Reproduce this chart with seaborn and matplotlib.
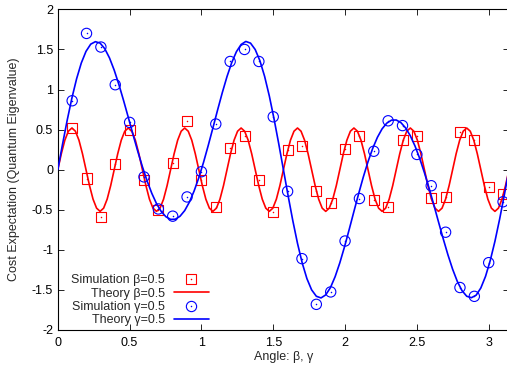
"""
QAOA cost expectation vs. angle: simulation points and theory curves
for beta = 0.5 and gamma = 0.5 (gnuplot-style figure).
"""

import matplotlib
matplotlib.use("Agg")
import matplotlib.pyplot as plt
import seaborn as sns
from matplotlib.lines import Line2D
from matplotlib.ticker import FuncFormatter, MultipleLocator

# -- data -------------------------------------------------------------------
sim_x = [0.1, 0.2, 0.3, 0.4, 0.5, 0.6, 0.7, 0.8, 0.9, 1.0,
         1.1, 1.2, 1.3, 1.4, 1.5, 1.6, 1.7, 1.8, 1.9, 2.0,
         2.1, 2.2, 2.3, 2.4, 2.5, 2.6, 2.7, 2.8, 2.9, 3.0, 3.1]

sim_beta = [0.52, -0.11, -0.59, 0.07, 0.49, -0.125, -0.50, 0.08, 0.61, -0.125,
            -0.47, 0.27, 0.425, -0.13, -0.525, 0.25, 0.30, -0.26, -0.42, 0.26,
            0.42, -0.38, -0.47, 0.37, 0.42, -0.35, -0.34, 0.47, 0.375, -0.21, -0.30]

sim_gamma = [0.86, 1.70, 1.53, 1.06, 0.59, -0.09, -0.49, -0.58, -0.34, -0.025,
             0.57, 1.35, 1.50, 1.35, 0.66, -0.27, -1.11, -1.68, -1.525, -0.89,
             -0.36, 0.23, 0.61, 0.55, 0.19, -0.20, -0.78, -1.47, -1.58, -1.16, -0.40]

theory_beta_x = [0.0, 0.0245, 0.0491, 0.0736, 0.0982, 0.1227, 0.1473, 0.1718,
                 0.1963, 0.2209, 0.2454, 0.2700, 0.2945, 0.3191, 0.3436, 0.3682,
                 0.3927, 0.4172, 0.4418, 0.4663, 0.4909, 0.5154, 0.5400, 0.5645,
                 0.5890, 0.6136, 0.6381, 0.6627, 0.6872, 0.7118, 0.7363, 0.7609,
                 0.7854, 0.8099, 0.8345, 0.8590, 0.8836, 0.9081, 0.9327, 0.9572,
                 0.9817, 1.0063, 1.0308, 1.0554, 1.0799, 1.1045, 1.1290, 1.1536,
                 1.1781, 1.2026, 1.2272, 1.2517, 1.2763, 1.3008, 1.3254, 1.3499,
                 1.3744, 1.3990, 1.4235, 1.4481, 1.4726, 1.4972, 1.5217, 1.5463,
                 1.5708, 1.5953, 1.6199, 1.6444, 1.6690, 1.6935, 1.7181, 1.7426,
                 1.7671, 1.7917, 1.8162, 1.8408, 1.8653, 1.8899, 1.9144, 1.9390,
                 1.9635, 1.9880, 2.0126, 2.0371, 2.0617, 2.0862, 2.1108, 2.1353,
                 2.1598, 2.1844, 2.2089, 2.2335, 2.2580, 2.2826, 2.3071, 2.3317,
                 2.3562, 2.3807, 2.4053, 2.4298, 2.4544, 2.4789, 2.5035, 2.5280,
                 2.5525, 2.5771, 2.6016, 2.6262, 2.6507, 2.6753, 2.6998, 2.7244,
                 2.7489, 2.7734, 2.7980, 2.8225, 2.8471, 2.8716, 2.8962, 2.9207,
                 2.9452, 2.9698, 2.9943, 3.0189, 3.0434, 3.0680, 3.0925, 3.1171,
                 3.1416]
theory_beta = [0.0, 0.199, 0.368, 0.480, 0.52, 0.480, 0.368, 0.199,
               0.0, -0.199, -0.368, -0.480, -0.52, -0.480, -0.368, -0.199,
               0.0, 0.199, 0.368, 0.480, 0.52, 0.480, 0.368, 0.199,
               0.0, -0.199, -0.368, -0.480, -0.52, -0.480, -0.368, -0.199,
               0.0, 0.199, 0.368, 0.480, 0.52, 0.480, 0.368, 0.199,
               0.0, -0.199, -0.368, -0.480, -0.52, -0.480, -0.368, -0.199,
               0.0, 0.199, 0.368, 0.480, 0.52, 0.480, 0.368, 0.199,
               0.0, -0.199, -0.368, -0.480, -0.52, -0.480, -0.368, -0.199,
               0.0, 0.199, 0.368, 0.480, 0.52, 0.480, 0.368, 0.199,
               0.0, -0.199, -0.368, -0.480, -0.52, -0.480, -0.368, -0.199,
               0.0, 0.199, 0.368, 0.480, 0.52, 0.480, 0.368, 0.199,
               0.0, -0.199, -0.368, -0.480, -0.52, -0.480, -0.368, -0.199,
               0.0, 0.199, 0.368, 0.480, 0.52, 0.480, 0.368, 0.199,
               0.0, -0.199, -0.368, -0.480, -0.52, -0.480, -0.368, -0.199,
               0.0, 0.199, 0.368, 0.480, 0.52, 0.480, 0.368, 0.199,
               0.0, -0.199, -0.368, -0.480, -0.52, -0.480, -0.368, -0.199,
               0.0]

theory_gamma_x = [0.0, 0.0327, 0.0654, 0.0982, 0.1309, 0.1636, 0.1963, 0.2291,
                  0.2618, 0.2945, 0.3272, 0.3600, 0.3927, 0.4254, 0.4581, 0.4909,
                  0.5236, 0.5563, 0.5890, 0.6218, 0.6545, 0.6872, 0.7199, 0.7527,
                  0.7854, 0.8181, 0.8508, 0.8836, 0.9163, 0.9490, 0.9817, 1.0145,
                  1.0472, 1.0799, 1.1126, 1.1454, 1.1781, 1.2108, 1.2435, 1.2763,
                  1.3090, 1.3417, 1.3744, 1.4072, 1.4399, 1.4726, 1.5053, 1.5381,
                  1.5708, 1.6035, 1.6362, 1.6690, 1.7017, 1.7344, 1.7671, 1.7999,
                  1.8326, 1.8653, 1.8980, 1.9308, 1.9635, 1.9962, 2.0289, 2.0617,
                  2.0944, 2.1271, 2.1598, 2.1926, 2.2253, 2.2580, 2.2907, 2.3235,
                  2.3562, 2.3889, 2.4216, 2.4544, 2.4871, 2.5198, 2.5525, 2.5853,
                  2.6180, 2.6507, 2.6834, 2.7162, 2.7489, 2.7816, 2.8143, 2.8471,
                  2.8798, 2.9125, 2.9452, 2.9780, 3.0107, 3.0434, 3.0761, 3.1089,
                  3.1416]
theory_gamma = [0.0, 0.315, 0.617, 0.894, 1.134, 1.331, 1.476, 1.566,
                1.597, 1.579, 1.509, 1.394, 1.242, 1.062, 0.862, 0.652,
                0.439, 0.232, 0.037, -0.140, -0.295, -0.423, -0.521, -0.587,
                -0.620, -0.618, -0.581, -0.510, -0.404, -0.266, -0.100, 0.091,
                0.301, 0.521, 0.745, 0.962, 1.162, 1.335, 1.472, 1.562,
                1.600, 1.579, 1.499, 1.359, 1.164, 0.920, 0.636, 0.325,
                0.0, -0.325, -0.636, -0.920, -1.164, -1.359, -1.499, -1.579,
                -1.600, -1.562, -1.472, -1.335, -1.162, -0.962, -0.745, -0.521,
                -0.301, -0.091, 0.100, 0.266, 0.404, 0.510, 0.581, 0.618,
                0.620, 0.587, 0.521, 0.423, 0.295, 0.140, -0.037, -0.232,
                -0.439, -0.652, -0.862, -1.062, -1.242, -1.394, -1.509, -1.579,
                -1.597, -1.566, -1.476, -1.331, -1.134, -0.894, -0.617, -0.315,
                0.0]

labels = ["Simulation \u03b2=0.5", "Theory \u03b2=0.5",
          "Simulation \u03b3=0.5", "Theory \u03b3=0.5"]

RED = "#ff0000"
BLUE = "#0000ff"
FS = 9

sns.set_style("ticks")
plt.rcParams["font.family"] = ["Liberation Sans", "DejaVu Sans"]
plt.rcParams["axes.unicode_minus"] = False

fig = plt.figure(figsize=(5.07, 3.75), dpi=100)
ax = fig.add_axes([0.114, 0.12, 0.890, 0.855])

# -- simulation beta (squares with centre dot) ------------------------------
sns.scatterplot(x=sim_x, y=sim_beta, marker="s", s=52, facecolor="none",
                edgecolor=RED, linewidth=0.8, ax=ax, zorder=3)
sns.scatterplot(x=sim_x, y=sim_beta, marker="o", s=1.2, color=RED,
                linewidth=0, ax=ax, zorder=3)
# -- theory beta ------------------------------------------------------------
sns.lineplot(x=theory_beta_x, y=theory_beta, color=RED, lw=1.2,
             errorbar=None, ax=ax, zorder=2)
# -- simulation gamma (circles with centre dot) -----------------------------
sns.scatterplot(x=sim_x, y=sim_gamma, marker="o", s=55, facecolor="none",
                edgecolor=BLUE, linewidth=0.8, ax=ax, zorder=4)
sns.scatterplot(x=sim_x, y=sim_gamma, marker="o", s=1.2, color=BLUE,
                linewidth=0, ax=ax, zorder=4)
# -- theory gamma -----------------------------------------------------------
sns.lineplot(x=theory_gamma_x, y=theory_gamma, color=BLUE, lw=1.2,
             errorbar=None, ax=ax, zorder=5)

ax.set_xlim(0, 3.1416)
ax.set_ylim(-2, 2)
ax.xaxis.set_major_locator(MultipleLocator(0.5))
ax.yaxis.set_major_locator(MultipleLocator(0.5))
fmt = FuncFormatter(lambda v, _: f"{v:g}")
ax.xaxis.set_major_formatter(fmt)
ax.yaxis.set_major_formatter(fmt)
ax.tick_params(direction="in", top=True, right=True, length=4, width=0.6,
               labelsize=FS, colors="black")
ax.tick_params(axis="x", pad=5)
ax.tick_params(axis="y", pad=3.3)
for sp in ax.spines.values():
    sp.set_visible(True)
    sp.set_color("black")
    sp.set_linewidth(0.8)

ax.set_xlabel("Angle: \u03b2, \u03b3", fontsize=FS)
ax.set_ylabel("Cost Expectation (Quantum Eigenvalue)", fontsize=FS)
ax.xaxis.set_label_coords(0.5, -0.066)
ax.yaxis.set_label_coords(-0.084, 0.5)

# -- gnuplot-like key: right-aligned text, sample on the right -------------
sq = Line2D([], [], ls="none", marker="s", ms=7.2, mfc="none", mec=RED, mew=0.8)
sq_dot = Line2D([], [], ls="none", marker="o", ms=1.1, mfc=RED, mec=RED, mew=0)
ci = Line2D([], [], ls="none", marker="o", ms=7.4, mfc="none", mec=BLUE, mew=0.8)
ci_dot = Line2D([], [], ls="none", marker="o", ms=1.1, mfc=BLUE, mec=BLUE, mew=0)
ln_r = Line2D([], [], color=RED, lw=1.2)
ln_b = Line2D([], [], color=BLUE, lw=1.2)
ax.legend([(sq, sq_dot), ln_r, (ci, ci_dot), ln_b], labels,
          loc="lower right", bbox_to_anchor=(0.335, 0.012), frameon=False,
          markerfirst=False, fontsize=FS, handlelength=2.8, handletextpad=0.7,
          labelspacing=0.1, borderpad=0.0, borderaxespad=0.0)

fig.savefig("out.png", dpi=100)
